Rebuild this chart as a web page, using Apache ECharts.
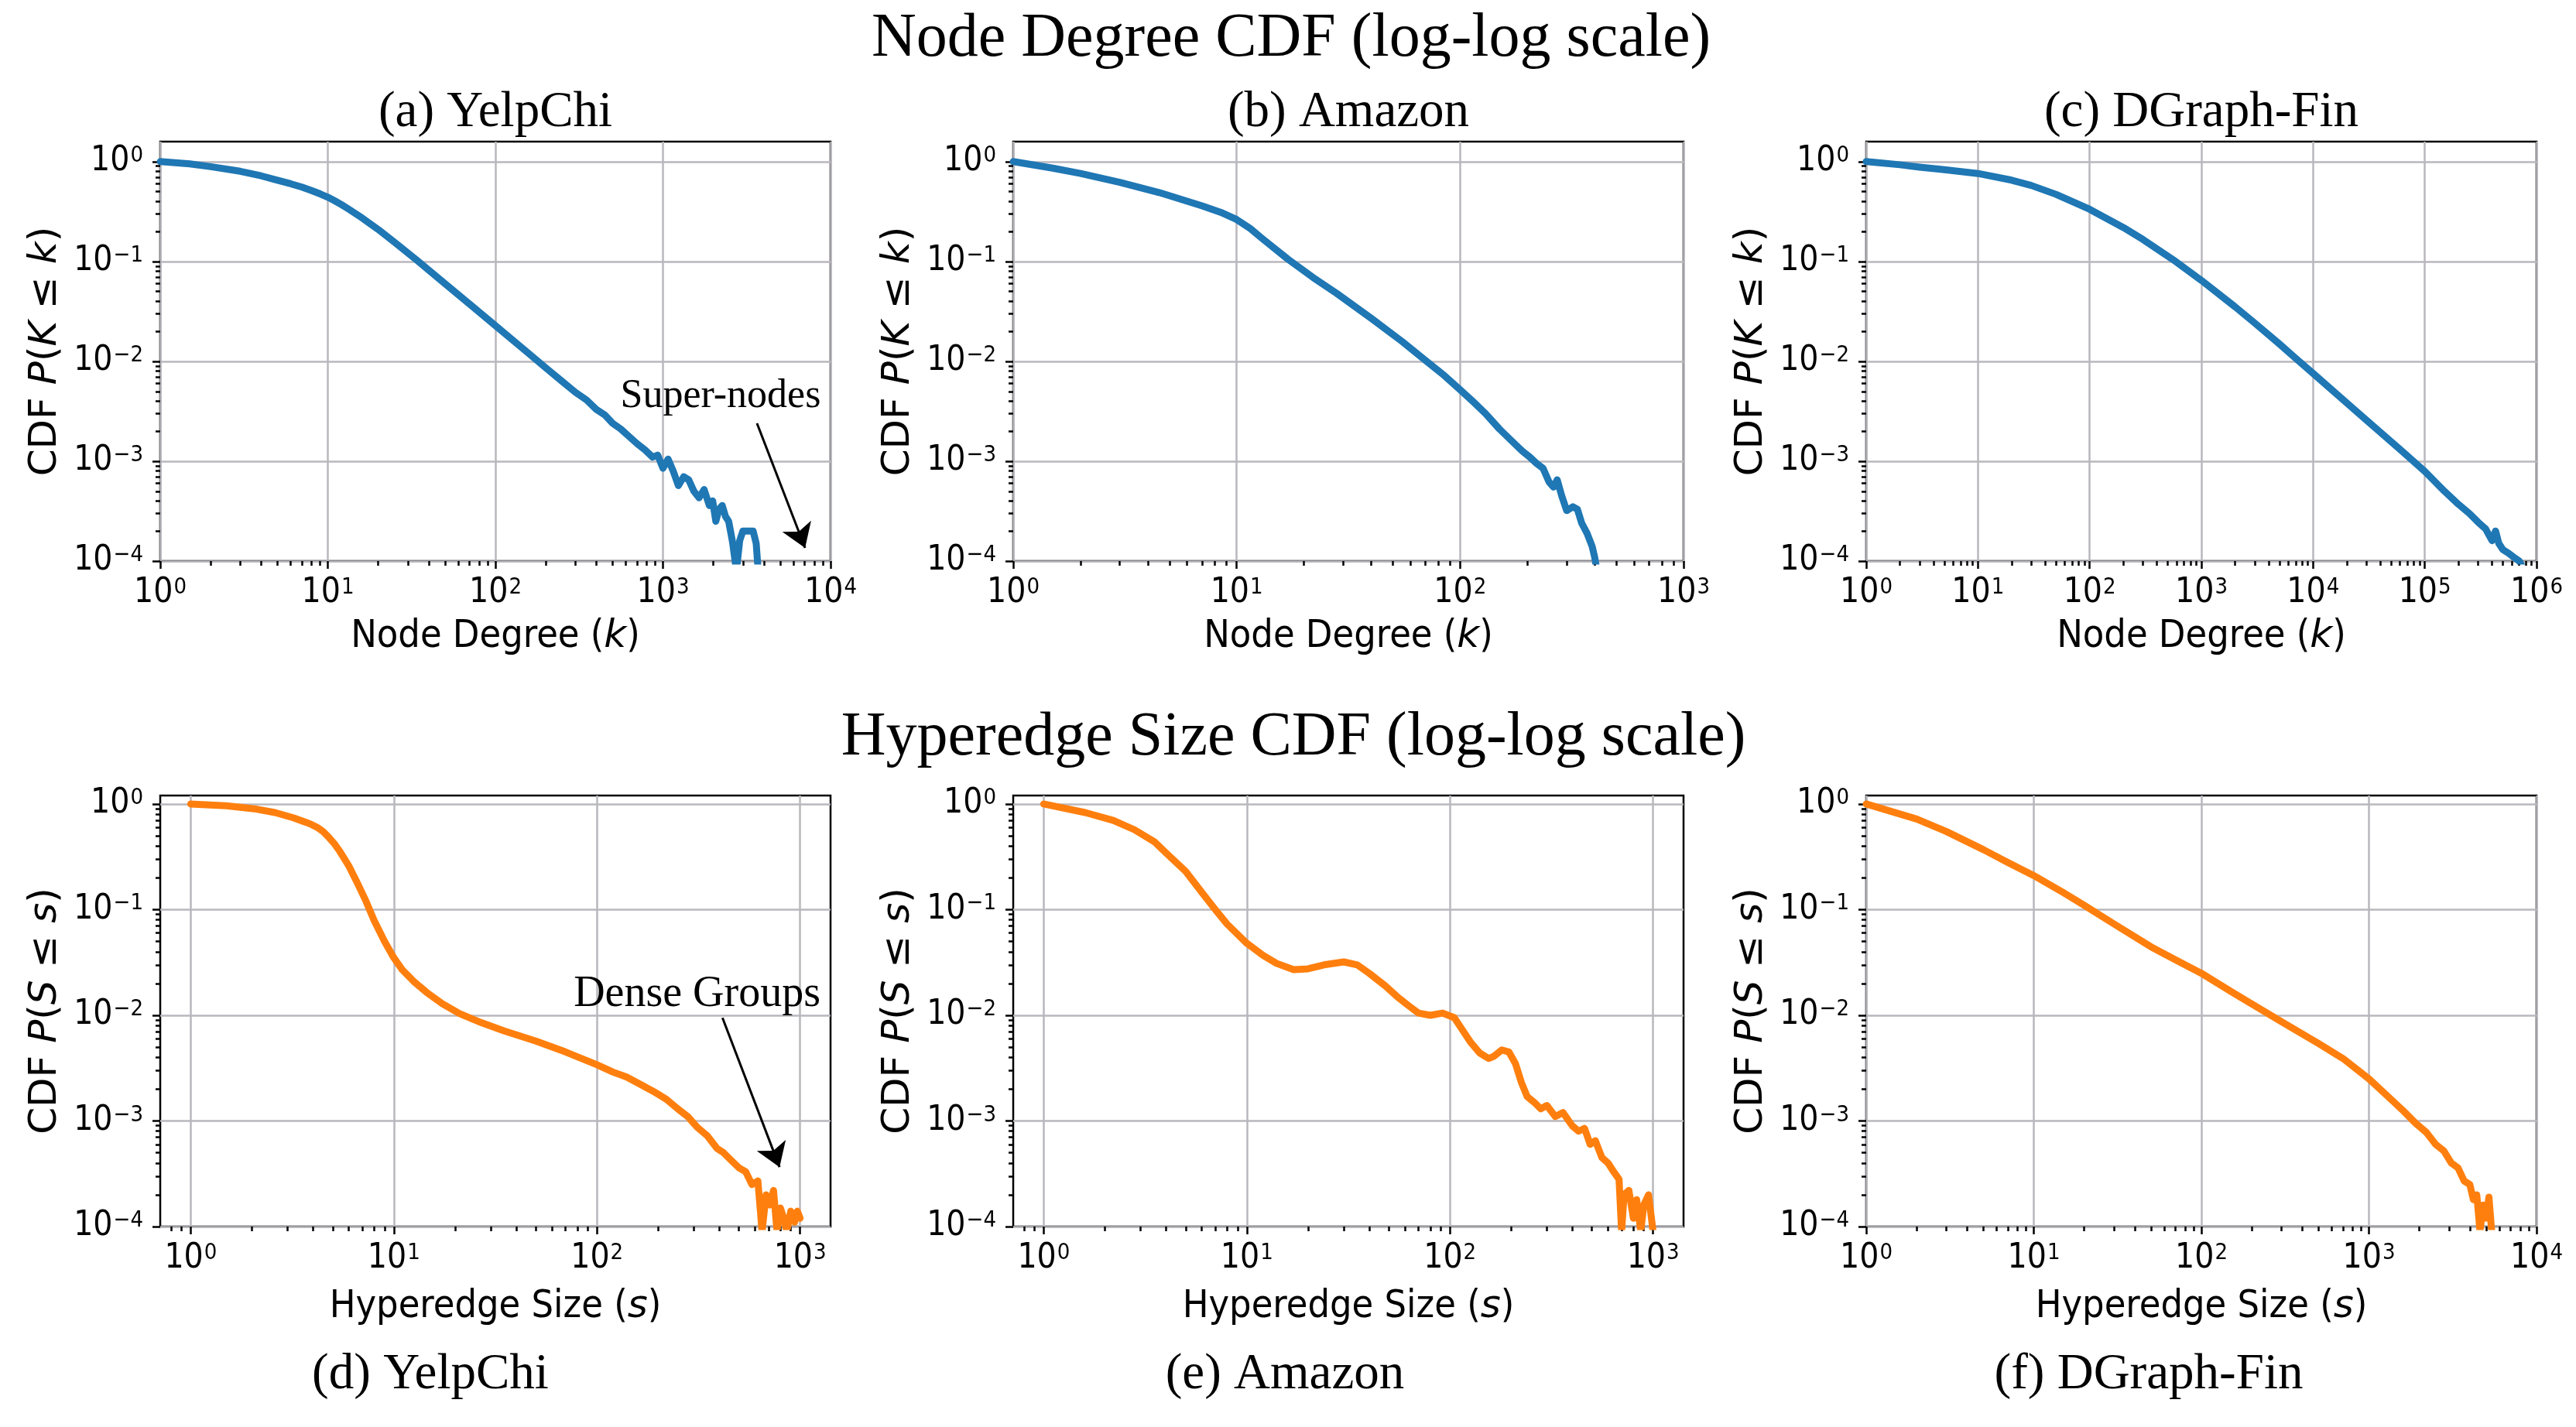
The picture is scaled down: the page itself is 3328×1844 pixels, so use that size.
<!DOCTYPE html>
<html>
<head>
<meta charset="utf-8">
<title>Node Degree / Hyperedge Size CDF</title>
<script src="https://cdn.jsdelivr.net/npm/echarts@6.0.0/dist/echarts.min.js"></script>
<style>
  html, body { margin: 0; padding: 0; background: #fff; }
  #main { width: 3328px; height: 1844px; }
</style>
</head>
<body>
<div id="main"></div>
<script>
// ---- data (raw values, plotted on log10 axes) ----
// (a) YelpChi node degree CDF
const degYelpK = [1, 1.5, 2, 3, 4, 5, 6, 7, 8, 9, 10, 11, 12, 13, 16, 20, 25, 34, 50, 70, 100, 150, 200, 250, 300, 350, 400, 450, 500, 560, 620, 700, 780, 867, 930, 1000, 1073, 1150, 1236, 1330, 1425, 1530, 1642, 1760, 1891, 1980, 2067, 2160, 2258, 2360, 2466, 2600, 2743, 2870, 3000, 3200, 3450, 3600, 3700];
const degYelpCdf = [1.0, 0.95, 0.89, 0.80, 0.72, 0.65, 0.6, 0.555, 0.513, 0.475, 0.44, 0.405, 0.373, 0.343, 0.273, 0.209, 0.156, 0.103, 0.060, 0.0376, 0.0228, 0.0129, 0.0086, 0.0063, 0.0049, 0.0041, 0.0033, 0.0029, 0.0024, 0.0021, 0.0018, 0.0015, 0.0013, 0.0011, 0.00115, 0.00085, 0.00105, 0.0008, 0.00057, 0.0007, 0.00065, 0.0005, 0.00043, 0.00052, 0.00036, 0.0004, 0.00025, 0.00033, 0.00036, 0.00028, 0.00025, 0.000156, 0.00008, 0.00016, 0.0002, 0.0002, 0.0002, 0.00015, 0.00008];

// (b) Amazon node degree CDF
const degAmazonK = [1, 1.5, 2, 3, 4.5, 7, 8.5, 10, 11.5, 13, 17, 22, 28, 40, 55, 70, 85, 100, 115, 130, 150, 170, 190, 205, 220, 235, 250, 262, 272, 285, 300, 320, 335, 350, 370, 390, 400, 410];
const degAmazonCdf = [1.0, 0.86, 0.76, 0.62, 0.49, 0.36, 0.31, 0.263, 0.214, 0.17, 0.105, 0.069, 0.048, 0.027, 0.0158, 0.0102, 0.0072, 0.0052, 0.0039, 0.003, 0.0021, 0.0016, 0.00126, 0.0011, 0.00095, 0.00085, 0.00062, 0.00055, 0.00065, 0.00045, 0.00032, 0.00035, 0.00033, 0.00024, 0.00019, 0.00014, 0.00011, 0.00008];

// (c) DGraph-Fin node degree CDF
const degDgraphK = [1, 2, 3, 5, 10, 20, 30, 50, 100, 200, 300, 560, 1000, 2000, 3000, 5000, 7000, 10000, 20000, 30000, 63000, 100000, 150000, 200000, 250000, 300000, 350000, 400000, 430000, 460000, 500000, 560000, 620000, 700000, 780000];
const degDgraphCdf = [1.0, 0.93, 0.88, 0.83, 0.76, 0.652, 0.577, 0.47, 0.333, 0.219, 0.166, 0.104, 0.0647, 0.0352, 0.0242, 0.0149, 0.0107, 0.00757, 0.00384, 0.00258, 0.00125, 0.00079, 0.0005, 0.00037, 0.0003, 0.000245, 0.00021, 0.00016, 0.0002, 0.00015, 0.00013, 0.00012, 0.00011, 0.0001, 0.00008];

// (d) YelpChi hyperedge size CDF
const hypYelpS = [1, 1.5, 2.06, 2.6, 3.2, 3.7, 3.95, 4.2, 4.5, 4.8, 5.1, 5.4, 5.7, 6, 6.3, 6.6, 7.3, 8, 9, 10, 11, 12.5, 14.5, 17.3, 21, 27, 35, 50, 70, 100, 120, 140, 165, 190, 220, 250, 280, 310, 350, 390, 420, 460, 500, 540, 580, 620, 650, 680, 710, 740, 770, 800, 830, 860, 900, 940, 970, 1000];
const hypYelpCdf = [1.0, 0.96, 0.9, 0.83, 0.74, 0.67, 0.637, 0.6, 0.545, 0.48, 0.42, 0.36, 0.305, 0.26, 0.215, 0.18, 0.12, 0.079, 0.05, 0.035, 0.027, 0.021, 0.0165, 0.0129, 0.0104, 0.0085, 0.0071, 0.0057, 0.0045, 0.0034, 0.0029, 0.0026, 0.0022, 0.0019, 0.0016, 0.0013, 0.0011, 0.00088, 0.00072, 0.00055, 0.0005, 0.00042, 0.00036, 0.00033, 0.00025, 0.00027, 0.00009, 0.0002, 0.00016, 0.00022, 0.00009, 0.00015, 0.00012, 0.00009, 0.00014, 0.00011, 0.00014, 0.00012];

// (e) Amazon hyperedge size CDF
const hypAmazonS = [1, 1.6, 2.2, 2.8, 3.5, 4.1, 5, 6, 7, 8, 10, 12, 14, 17, 20, 24, 30, 35, 40, 48, 55, 62, 70, 80, 92, 105, 115, 126, 140, 155, 165, 180, 195, 210, 225, 240, 260, 280, 300, 330, 360, 400, 430, 460, 490, 520, 560, 600, 640, 680, 700, 720, 760, 800, 830, 870, 900, 950, 1000];
const hypAmazonCdf = [1.0, 0.83, 0.7, 0.57, 0.44, 0.33, 0.23, 0.146, 0.1, 0.073, 0.048, 0.037, 0.031, 0.027, 0.0275, 0.03, 0.032, 0.03, 0.025, 0.019, 0.015, 0.0125, 0.0105, 0.01, 0.0105, 0.0095, 0.0073, 0.0056, 0.0044, 0.0039, 0.0041, 0.0047, 0.0045, 0.0035, 0.0023, 0.0017, 0.0015, 0.0013, 0.0014, 0.0011, 0.0012, 0.0009, 0.0008, 0.00085, 0.0006, 0.00065, 0.00045, 0.0004, 0.00033, 0.00028, 0.00009, 0.0002, 0.00022, 0.00012, 0.00018, 0.00009, 0.00016, 0.0002, 0.00009];

// (f) DGraph-Fin hyperedge size CDF
const hypDgraphS = [1, 2, 3, 5, 7, 10, 15, 20, 30, 50, 70, 100, 150, 200, 300, 500, 700, 1000, 1300, 1600, 1900, 2200, 2500, 2800, 3100, 3400, 3700, 4000, 4200, 4400, 4600, 4800, 5000, 5200, 5400];
const hypDgraphCdf = [1.0, 0.72, 0.55, 0.37, 0.28, 0.21, 0.145, 0.11, 0.0735, 0.0445, 0.0335, 0.025, 0.0168, 0.0128, 0.0087, 0.0054, 0.0039, 0.0025, 0.0017, 0.00125, 0.00095, 0.00078, 0.0006, 0.00052, 0.0004, 0.00036, 0.00027, 0.00025, 0.00018, 0.0002, 0.00009, 0.00016, 0.00012, 0.00019, 0.00009];

// axis ranges as log10 exponents
const degXRanges = [[0, 4], [0, 3], [0, 6]];
const hypXRanges = [[-0.15, 3.15], [-0.15, 3.15], [0, 4]];
const degYRange = [-4, 0.2];
const hypYRange = [-4, 0.08];

// text
const topTitle = 'Node Degree CDF (log-log scale)';
const bottomTitle = 'Hyperedge Size CDF (log-log scale)';
const topLabels = ['(a) YelpChi', '(b) Amazon', '(c) DGraph-Fin'];
const bottomLabels = ['(d) YelpChi', '(e) Amazon', '(f) DGraph-Fin'];

// ---- styling ----
const BLUE = '#1f77b4';
const ORANGE = '#ff7f0e';
const GRIDC = '#b9b7bd';
const SANS = '"DejaVu Sans Condensed", "DejaVu Sans", sans-serif';
const SANS_REG = '"DejaVu Sans", sans-serif';
const SERIF = '"Liberation Serif", "Times New Roman", serif';

const colLeft = [207, 1309, 2411];
const plotW = 866;
const rows = [{ top: 183, height: 542 }, { top: 1028, height: 557 }];

function majorTicks(lo, hi) {
  const a = [];
  for (let d = Math.ceil(lo - 1e-9); d <= hi + 1e-9; d++) a.push(d);
  return a;
}
function minorTicks(lo, hi) {
  const a = [];
  for (let d = Math.floor(lo); d < Math.ceil(hi); d++) {
    for (let m = 2; m <= 9; m++) {
      const v = d + Math.log10(m);
      if (v >= lo && v <= hi) a.push(v);
    }
  }
  return a;
}
function powLabel(v) {
  const e = Math.round(v);
  return '{b|10}{s|' + (e < 0 ? '\u2212' + (-e) : e) + '}';
}
const labelRich = {
  b: { fontSize: 44, lineHeight: 44, fontFamily: SANS, color: '#000' },
  s: { fontSize: 29, lineHeight: 30, verticalAlign: 'top', fontFamily: SANS, color: '#000', padding: [0, 0, 0, 1] }
};
const tickStyle = { color: '#000', width: 2.5 };
const noLine = { show: false, onZero: false };

const panels = [
  { k: degYelpK, p: degYelpCdf, xr: degXRanges[0], yr: degYRange, row: 0, col: 0, color: BLUE },
  { k: degAmazonK, p: degAmazonCdf, xr: degXRanges[1], yr: degYRange, row: 0, col: 1, color: BLUE },
  { k: degDgraphK, p: degDgraphCdf, xr: degXRanges[2], yr: degYRange, row: 0, col: 2, color: BLUE },
  { k: hypYelpS, p: hypYelpCdf, xr: hypXRanges[0], yr: hypYRange, row: 1, col: 0, color: ORANGE },
  { k: hypAmazonS, p: hypAmazonCdf, xr: hypXRanges[1], yr: hypYRange, row: 1, col: 1, color: ORANGE },
  { k: hypDgraphS, p: hypDgraphCdf, xr: hypXRanges[2], yr: hypYRange, row: 1, col: 2, color: ORANGE }
];

const grids = [], xAxes = [], yAxes = [], series = [];

panels.forEach((pn, i) => {
  const r = rows[pn.row];
  grids.push({
    left: colLeft[pn.col], top: r.top, width: plotW, height: r.height,
    show: true, borderColor: '#000', borderWidth: 2.5, backgroundColor: 'transparent',
    containLabel: false, outerBoundsMode: 'none'
  });
  const deg = pn.row === 0;
  const xName = deg ? 'Node Degree ({i|k})' : 'Hyperedge Size ({i|s})';
  const yName = deg ? 'CDF {i|P}({i|K} \u2264 {i|k})' : 'CDF {i|P}({i|S} \u2264 {i|s})';
  const xMaj = majorTicks(pn.xr[0], pn.xr[1]);
  const yMaj = majorTicks(pn.yr[0], pn.yr[1]);

  // major ticks, labels, grid lines
  xAxes.push({
    type: 'value', gridIndex: i, min: pn.xr[0], max: pn.xr[1], position: 'bottom',
    axisLine: noLine,
    axisTick: { show: true, customValues: xMaj, length: 10, lineStyle: tickStyle },
    axisLabel: { show: true, customValues: xMaj, margin: 20, formatter: powLabel, rich: labelRich },
    splitLine: { show: true, lineStyle: { color: GRIDC, width: 2.5 } },
    name: xName, nameLocation: 'middle', nameGap: deg ? 73 : 79,
    nameTextStyle: {
      fontSize: 50, lineHeight: 50, fontFamily: SANS, color: '#000',
      rich: { i: { fontSize: 50, lineHeight: 50, fontFamily: SANS_REG, fontStyle: 'italic', color: '#000' } }
    }
  });
  // minor ticks on the same bottom edge
  xAxes.push({
    type: 'value', gridIndex: i, min: pn.xr[0], max: pn.xr[1], position: 'bottom', offset: 0,
    axisLine: noLine,
    axisTick: { show: true, customValues: minorTicks(pn.xr[0], pn.xr[1]), length: 6, lineStyle: tickStyle },
    axisLabel: { show: false }, splitLine: { show: false }
  });
  yAxes.push({
    type: 'value', gridIndex: i, min: pn.yr[0], max: pn.yr[1], position: 'left',
    axisLine: noLine,
    axisTick: { show: true, customValues: yMaj, length: 10, lineStyle: tickStyle },
    axisLabel: { show: true, customValues: yMaj, margin: 22, formatter: powLabel, rich: labelRich },
    splitLine: { show: true, lineStyle: { color: GRIDC, width: 2.5 } },
    name: yName, nameLocation: 'middle', nameGap: 123,
    nameTextStyle: {
      fontSize: 50, lineHeight: 50, fontFamily: SANS_REG, color: '#000',
      rich: { i: { fontSize: 50, lineHeight: 50, fontFamily: SANS_REG, fontStyle: 'italic', color: '#000' } }
    }
  });
  yAxes.push({
    type: 'value', gridIndex: i, min: pn.yr[0], max: pn.yr[1], position: 'left', offset: 0,
    axisLine: noLine,
    axisTick: { show: true, customValues: minorTicks(pn.yr[0], pn.yr[1]), length: 6, lineStyle: tickStyle },
    axisLabel: { show: false }, splitLine: { show: false }
  });

  series.push({
    type: 'line', xAxisIndex: 2 * i, yAxisIndex: 2 * i,
    data: pn.k.map((v, j) => [Math.log10(v), Math.log10(pn.p[j])]),
    showSymbol: false, symbol: 'none', smooth: false, clip: true,
    lineStyle: { color: pn.color, width: 9, cap: 'round', join: 'round' },
    silent: true, z: 3
  });
});

// annotations (matplotlib-style annotate, in log10 data space)
function annotate(s, text, fontSize, textAt, from, to) {
  s.markLine = {
    silent: true, animation: false, symbol: ['none', 'arrow'], symbolSize: 30,
    label: { show: false },
    lineStyle: { color: '#000', width: 3, type: 'solid' },
    data: [[{ coord: from }, { coord: to }]]
  };
  s.markPoint = {
    silent: true, animation: false,
    data: [{
      coord: textAt, symbol: 'rect', symbolSize: 1, itemStyle: { color: 'rgba(0,0,0,0)' },
      label: { show: true, position: 'inside', formatter: text, fontSize: fontSize, fontFamily: SERIF, color: '#000' }
    }]
  };
}
annotate(series[0], 'Super-nodes', 52, [3.344, -2.349], [3.561, -2.621], [3.848, -3.868]);
annotate(series[3], 'Dense Groups', 56, [2.493, -1.804], [2.618, -2.024], [2.899, -3.437]);

// titles
const graphic = [];
function addText(text, x, y, size) {
  graphic.push({
    type: 'text', x: x, y: y, silent: true,
    style: {
      text: text, fontSize: size, fontFamily: SERIF, fill: '#000',
      align: 'center', verticalAlign: 'middle', textAlign: 'center', textVerticalAlign: 'middle'
    }
  });
}
addText(topTitle, 1668, 51, 80);
addText(bottomTitle, 1671, 954, 80);
topLabels.forEach((t, c) => addText(t, colLeft[c] + plotW / 2, 146, 65));
const bottomLabelX = [556, 1660, 2776];
bottomLabels.forEach((t, c) => addText(t, bottomLabelX[c], 1777, 65));

const chart = echarts.init(document.getElementById('main'));
chart.setOption({
  backgroundColor: '#ffffff',
  animation: false,
  grid: grids,
  xAxis: xAxes,
  yAxis: yAxes,
  series: series,
  graphic: graphic
});
</script>
</body>
</html>
